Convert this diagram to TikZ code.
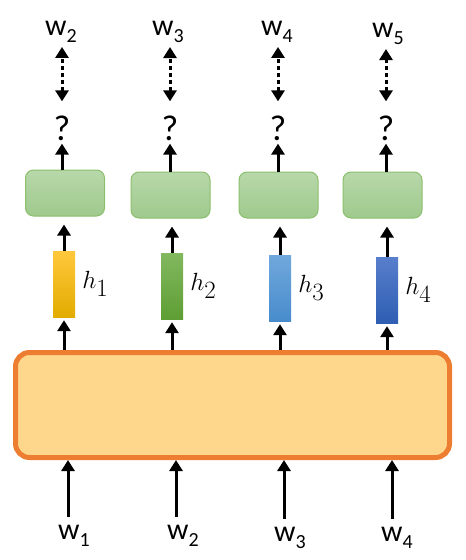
\documentclass[tikz,border=0pt]{standalone}
\usepackage{fontspec}
\setmainfont{Carlito}
\usepackage{amsmath}
\usepackage{tikz}
\usetikzlibrary{arrows.meta, positioning}

\definecolor{encfill}{RGB}{254, 215, 140}
\definecolor{encline}{RGB}{237, 125, 49}
\definecolor{gtop}{RGB}{184, 216, 170}
\definecolor{gbot}{RGB}{158, 201, 140}
\definecolor{gline}{RGB}{140, 191, 110}

\newcommand{\wlab}[1]{w\raisebox{-0.5ex}{\fontsize{20}{22}\selectfont #1}}

\tikzset{
    arr/.style={line width=3pt, -{Triangle[width=13pt, length=11pt]}},
    dotarr/.style={line width=3pt, dash pattern=on 4pt off 3pt,
        {Triangle[width=13pt, length=11pt]}-{Triangle[width=13pt, length=11pt]}},
    wtext/.style={inner sep=0pt, font=\fontsize{30}{34}\selectfont},
    qtext/.style={inner sep=0pt, font=\fontsize{36}{40}\selectfont},
    htext/.style={inner sep=0pt, font=\fontsize{37}{42}\selectfont},
    outbox/.style={draw=gline, line width=1pt, rounded corners=8pt,
        top color=gtop, bottom color=gbot, minimum width=79pt, minimum height=46pt},
    hbar/.style={inner sep=0pt, minimum width=22pt, minimum height=66pt}
}

\begin{document}
\begin{tikzpicture}[x=1pt, y=-1pt]

    \useasboundingbox (0,0) rectangle (466,560);

    % Encoder box
    \node[draw=encline, line width=5pt, fill=encfill, rounded corners=14pt,
        minimum width=434pt, minimum height=105pt] (enc) at (232.5,405) {};

    % Hidden vectors
    \node[hbar, top color={rgb,255:red,255;green,200;blue,60}, middle color={rgb,255:red,255;green,192;blue,0},
        bottom color={rgb,255:red,226;green,172;blue,0}] (h1) at (64,284) {};
    \node[hbar, top color={rgb,255:red,130;green,184;blue,95}, bottom color={rgb,255:red,94;green,158;blue,52}] (h2) at (172,286) {};
    \node[hbar, top color={rgb,255:red,112;green,168;blue,220}, bottom color={rgb,255:red,72;green,140;blue,204}] (h3) at (280,288) {};
    \node[hbar, top color={rgb,255:red,88;green,126;blue,204}, bottom color={rgb,255:red,46;green,94;blue,178}] (h4) at (387,290) {};

    % Labels right of the bars
    \node[htext, right=7pt of h1] (lh1) {$h_1$};
    \node[htext, right=7pt of h2] (lh2) {$h_2$};
    \node[htext, right=7pt of h3] (lh3) {$h_3$};
    \node[htext, right=7pt of h4] (lh4) {$h_4$};

    % Output boxes
    \node[outbox] (out1) at (65,193) {};
    \node[outbox] (out2) at (170.5,195) {};
    \node[outbox] (out3) at (278.5,195) {};
    \node[outbox] (out4) at (382.5,195) {};

    % Question marks
    \node[qtext] (q1) at (62,128) {?};
    \node[qtext] (q2) at (170,128) {?};
    \node[qtext] (q3) at (278,128) {?};
    \node[qtext] (q4) at (386,128) {?};

    % Target words
    \node[wtext] (t1) at (61,32) {\wlab{2}};
    \node[wtext] (t2) at (168,32) {\wlab{3}};
    \node[wtext] (t3) at (277,32) {\wlab{4}};
    \node[wtext] (t4) at (388,34) {\wlab{5}};

    % Input words
    \node[wtext] (in1) at (74,536) {\wlab{1}};
    \node[wtext] (in2) at (183,536) {\wlab{2}};
    \node[wtext] (in3) at (290,538) {\wlab{3}};
    \node[wtext] (in4) at (397,538) {\wlab{4}};

    % Inputs into the encoder
    \draw[arr, shorten <=8pt] ([xshift=-6pt]in1.north) -- ([xshift=-6pt]in1.north |- enc.south);
    \draw[arr, shorten <=8pt] ([xshift=-7pt]in2.north) -- ([xshift=-7pt]in2.north |- enc.south);
    \draw[arr, shorten <=8pt] ([xshift=-6pt]in3.north) -- ([xshift=-6pt]in3.north |- enc.south);
    \draw[arr, shorten <=8pt] ([xshift=-5pt]in4.north) -- ([xshift=-5pt]in4.north |- enc.south);

    % Encoder to hidden vectors
    \draw[arr, shorten >=3pt] (h1.south |- enc.north) -- (h1.south);
    \draw[arr, shorten >=3pt] (h2.south |- enc.north) -- (h2.south);
    \draw[arr, shorten >=3pt] (h3.south |- enc.north) -- (h3.south);
    \draw[arr, shorten >=3pt] (h4.south |- enc.north) -- (h4.south);

    % Hidden vectors to output boxes
    \draw[arr, shorten >=8pt] (h1.north) -- (h1.north |- out1.south);
    \draw[arr, shorten >=8pt] (h2.north) -- (h2.north |- out2.south);
    \draw[arr, shorten >=8pt] (h3.north) -- (h3.north |- out3.south);
    \draw[arr, shorten >=8pt] (h4.north) -- (h4.north |- out4.south);

    % Output boxes to question marks
    \draw[arr, shorten >=3pt] (q1.south |- out1.north) -- (q1.south);
    \draw[arr, shorten >=3pt] (q2.south |- out2.north) -- (q2.south);
    \draw[arr, shorten >=3pt] (q3.south |- out3.north) -- (q3.south);
    \draw[arr, shorten >=3pt] (q4.south |- out4.north) -- (q4.south);

    % Question marks to target words
    \draw[dotarr, shorten <=14pt, shorten >=4pt] (q1.north) -- (q1.north |- t1.south);
    \draw[dotarr, shorten <=14pt, shorten >=4pt] (q2.north) -- (q2.north |- t2.south);
    \draw[dotarr, shorten <=14pt, shorten >=4pt] (q3.north) -- (q3.north |- t3.south);
    \draw[dotarr, shorten <=14pt, shorten >=4pt] (q4.north) -- (q4.north |- t4.south);

\end{tikzpicture}
\end{document}
